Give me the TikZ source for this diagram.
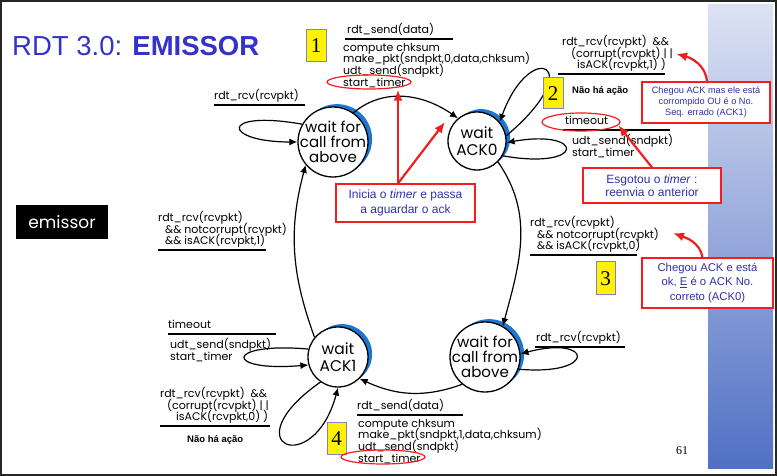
\documentclass[tikz,border=0pt]{standalone}
\usepackage{fontspec}
\setmainfont{Liberation Sans}
\newfontfamily\gfont{Poppins}
\newfontfamily\tfont{Liberation Serif}
\usetikzlibrary{shapes,shapes.geometric,calc,positioning,arrows.meta}
\definecolor{titleblue}{RGB}{51,51,204}
\definecolor{callblue}{RGB}{48,48,170}
\definecolor{arcblue}{RGB}{28,118,210}
\definecolor{boxblue}{RGB}{130,130,200}
\definecolor{callred}{RGB}{240,30,30}
\definecolor{stripblue}{RGB}{80,112,196}
\lineskiplimit=-50pt
\lineskip=0pt

\begin{document}
\begin{tikzpicture}
	[x=1pt,y=1pt,>={Latex[length=8pt,width=7pt]},every node/.style={inner sep=0pt},
	state/.style={circle,draw,line width=1.3pt,fill=white,minimum size=#1,
		preaction={fill=arcblue,transform canvas={shift={(35:5pt)}}}},
	statetext/.style={align=center,font=\gfont\fontsize{15}{14.8}\selectfont},
	acktext/.style={align=center,font=\gfont\fontsize{15.5}{17}\selectfont},
	transition/.style={->,line width=1.2pt},
	lbl/.style={font=\gfont\fontsize{11}{11.6}\selectfont,align=left,
		anchor=north west,execute at begin node=\strut},
	guard/.style={lbl,anchor=south west,inner ysep=1.5pt,execute at end node=\strut},
	guardline/.style={line width=1.3pt},
	noact/.style={anchor=base west,font=\bfseries\fontsize{9.5}{9.5}\selectfont},
	numbox/.style={draw=boxblue,fill=yellow,line width=1pt,font=\tfont\fontsize{21}{21}\selectfont},
	timering/.style={ellipse,draw=callred,line width=1.2pt},
	call/.style={draw=callred,line width=1.2pt,fill=white,align=center,text=callblue},
	callarrow/.style={draw=callred,line width=2.2pt,-{Latex[length=11pt,width=9pt]}}]
	\useasboundingbox (0,0) rectangle (777,476);
	\shade[top color=stripblue!20!white,middle color=stripblue!65!white,bottom color=stripblue] (708,7) rectangle (773,471);
	\draw[line width=2pt,black!85] (1,1) rectangle (776,475);
	\node[anchor=base west,text=titleblue,font=\fontsize{27.5}{30}\selectfont] (title) at (12,420) {RDT 3.0: \textbf{EMISSOR}};
	\node[fill=black,text=white,minimum width=92pt,minimum height=34pt,font=\gfont\fontsize{17}{17}\selectfont] (emissor) at (62,254) {emissor};
	\node[font=\tfont\fontsize{12}{12}\selectfont] (page) at (682,25) {61};
	% states
	\node[state=70pt,label={[statetext]center:{wait for\\call from\\above}}] (S1) at (333,334) {};
	\node[state=58pt,label={[acktext]center:{wait\\ACK0}}] (S2) at (477,335) {};
	\node[state=70pt,label={[statetext]center:{wait for\\call from\\above}}] (S3) at (485,119) {};
	\node[state=60pt,label={[acktext]center:{wait\\ACK1}}] (S4) at (338,119) {};
	% transitions
	\draw[transition] (S1.55) to[out=40,in=145] (S2.130);
	\draw[transition] (S2.10) .. controls +(40:110) and +(70:90) .. (S2.40);
	\draw[transition] (S2.-30) .. controls +(-10:85) and +(10:80) .. (S2.-3);
	\draw[transition] (S2.-45) to[out=-55,in=75] (S3.60);
	\draw[transition] (S3.-20) .. controls +(-5:80) and +(15:75) .. (S3.5);
	\draw[transition] (S3.-130) to[out=-160,in=-25] (S4.-45);
	\draw[transition] (S4.165) .. controls +(175:85) and +(185:85) .. (S4.-165);
	\draw[transition] (S4.-125) .. controls +(-145:110) and +(-105:95) .. (S4.-90);
	\draw[transition] (S4.140) to[out=110,in=-105] (S1.-140);
	\draw[transition] (S1.150) .. controls +(170:85) and +(180:75) .. (S1.180);
	% labels
	\node[guard] (G1) at (345,437) {\hspace*{2pt}rdt\_send(data)};
	\draw[guardline] (G1.south west) -- +(108,0);
	\node[lbl] (A1) at (343,433) {compute chksum\\make\_pkt(sndpkt,0,data,chksum)\\udt\_send(sndpkt)\\start\_timer};
	\node[guard] (G2) at (558,402) {\hspace*{4pt}rdt\_rcv(rcvpkt)\ \ \&\&\\\hspace*{13pt}(corrupt(rcvpkt) | |\\\hspace*{19pt}isACK(rcvpkt,1) )};
	\draw[guardline] (G2.south west) -- +(107,0);
	\node[noact] (N2) at (572,382) {Não há ação};
	\node[guard] (G3) at (563,346) {\hspace*{2pt}timeout};
	\draw[guardline] (G3.south west) -- +(107,0);
	\node[lbl] (A3) at (572,342) {udt\_send(sndpkt)\\start\_timer};
	\node[guard] (G4) at (530,221) {rdt\_rcv(rcvpkt)\\\hspace*{7pt}\&\& notcorrupt(rcvpkt)\\\hspace*{7pt}\&\& isACK(rcvpkt,0)};
	\draw[guardline] (G4.south west) -- +(107,0);
	\node[guard] (G5) at (535,129) {\hspace*{1pt}rdt\_rcv(rcvpkt)};
	\draw[guardline] (G5.south west) -- +(90,0);
	\node[guard] (G6) at (357,61) {rdt\_send(data)};
	\draw[guardline] (G6.south west) -- +(106,0);
	\node[lbl] (A6) at (358,57) {compute chksum\\make\_pkt(sndpkt,1,data,chksum)\\udt\_send(sndpkt)\\start\_timer};
	\node[guard] (G7) at (168,142) {timeout};
	\draw[guardline] (G7.south west) -- +(108,0);
	\node[lbl] (A7) at (170,138) {udt\_send(sndpkt)\\start\_timer};
	\node[guard] (G8) at (160,50) {rdt\_rcv(rcvpkt)\ \ \&\&\\\hspace*{7pt}(corrupt(rcvpkt) | |\\\hspace*{16pt}isACK(rcvpkt,0) )};
	\draw[guardline] (G8.south west) -- +(110,0);
	\node[noact] (N8) at (187,33) {Não há ação};
	\node[guard] (G9) at (158,226) {rdt\_rcv(rcvpkt)\\\hspace*{7pt}\&\& notcorrupt(rcvpkt)\\\hspace*{7pt}\&\& isACK(rcvpkt,1)};
	\draw[guardline] (G9.south west) -- +(108,0);
	\node[guard] (G10) at (214,371) {rdt\_rcv(rcvpkt)};
	\draw[guardline] (G10.south west) -- +(91,0);
	% numbers
	\node[numbox,minimum width=20pt,minimum height=32pt] (B1) at (316,430) {1};
	\node[numbox,minimum width=20pt,minimum height=31pt] (B2) at (553,382.5) {2};
	\node[numbox,minimum width=19pt,minimum height=33pt] (B3) at (605.5,197.5) {3};
	\node[numbox,minimum width=19pt,minimum height=32pt] (B4) at (336.5,37) {4};
	% notes
	\node[timering,minimum width=84pt,minimum height=14pt] (E1) at (369,394) {};
	\node[timering,minimum width=78pt,minimum height=18pt] (E3) at (581,354) {};
	\node[timering,minimum width=84pt,minimum height=14pt] (E6) at (383,19) {};
	\node[call,minimum width=139pt,minimum height=38pt,font=\fontsize{12}{15}\selectfont] (CA) at (405.5,273) {Inicia o \textit{timer} e passa\\a aguardar o ack};
	\node[call,minimum width=138pt,minimum height=35pt,font=\fontsize{12}{13.5}\selectfont] (CB) at (652,290.5) {Esgotou o \textit{timer} :\\reenvia o anterior};
	\node[call,minimum width=128pt,minimum height=41pt,font=\fontsize{9.2}{11}\selectfont] (CC) at (706,373.5) {Chegou ACK mas ele está\\corrompido OU é o No.\\Seq. errado (ACK1)};
	\node[call,minimum width=131pt,minimum height=50pt,font=\fontsize{11.3}{14.3}\selectfont] (CD) at (707.5,193) {Chegou ACK e está\\ok, \underline{E} é o ACK No.\\correto (ACK0)};
	\coordinate (ca) at ([xshift=-7.5pt]CA.north);
	\coordinate (ackpt) at (445,354);
	\coordinate (g4pt) at (673,243);
	\draw[callarrow] (ca) -- (ca |- E1.south);
	\draw[callarrow] (ca) -- (ackpt);
	\draw[callarrow] (CB.north) -- (E3.-5);
	\draw[callarrow] ([xshift=1pt]CC.north) to[out=95,in=-15] ([xshift=3pt]G2.east);
	\draw[callarrow] ([xshift=-5pt]CD.north) to[out=100,in=-20] (g4pt);
\end{tikzpicture}
\end{document}
